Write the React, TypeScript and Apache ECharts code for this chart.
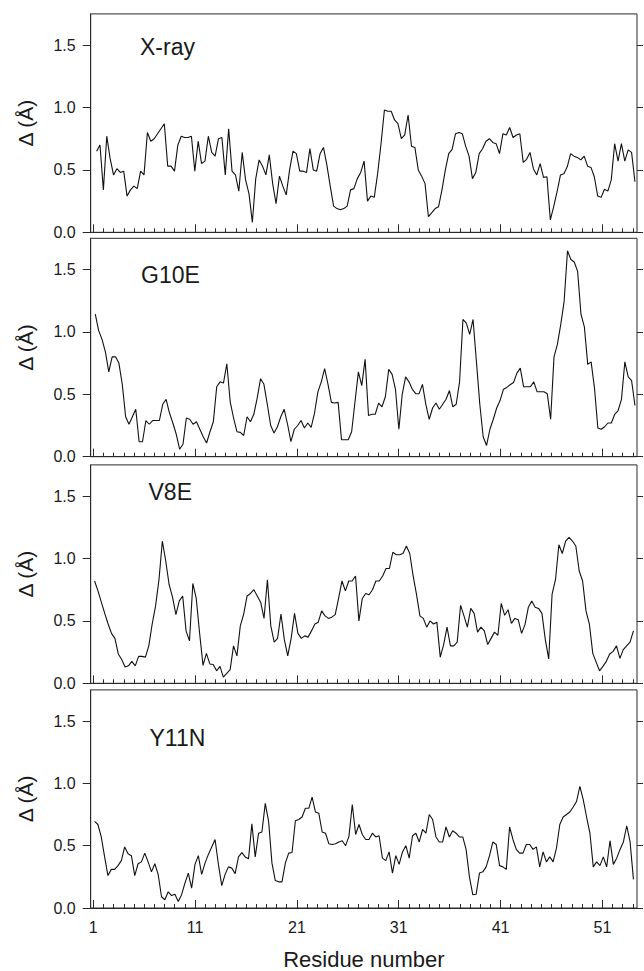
import React, { useEffect, useRef } from 'react';
import * as echarts from 'echarts';

const PANEL_LABELS = ['X-ray', 'G10E', 'V8E', 'Y11N'];

const XRAY = [
  0.65, 0.70, 0.34, 0.77, 0.59, 0.46, 0.51, 0.48, 0.49, 0.29, 0.34, 0.37, 0.35, 0.49, 0.46, 0.80,
  0.73, 0.75, 0.79, 0.83, 0.87, 0.53, 0.53, 0.49, 0.70, 0.77, 0.76, 0.76, 0.77, 0.49, 0.73, 0.55,
  0.57, 0.77, 0.64, 0.61, 0.75, 0.76, 0.46, 0.83, 0.49, 0.46, 0.33, 0.64, 0.42, 0.31, 0.08, 0.43,
  0.58, 0.53, 0.46, 0.62, 0.39, 0.23, 0.45, 0.37, 0.30, 0.50, 0.65, 0.63, 0.49, 0.49, 0.48, 0.67,
  0.50, 0.49, 0.63, 0.68, 0.54, 0.37, 0.21, 0.19, 0.18, 0.19, 0.21, 0.34, 0.35, 0.43, 0.48, 0.57,
  0.25, 0.29, 0.28, 0.47, 0.71, 0.98, 0.97, 0.97, 0.90, 0.87, 0.75, 0.78, 0.94, 0.69, 0.68, 0.50,
  0.45, 0.39, 0.125, 0.157, 0.19, 0.205, 0.34, 0.50, 0.63, 0.665, 0.79, 0.80, 0.79, 0.69, 0.61, 0.43,
  0.48, 0.63, 0.67, 0.73, 0.75, 0.72, 0.71, 0.63, 0.79, 0.78, 0.84, 0.76, 0.78, 0.79, 0.56, 0.585,
  0.64, 0.51, 0.46, 0.55, 0.44, 0.445, 0.10, 0.205, 0.325, 0.46, 0.47, 0.525, 0.63, 0.61, 0.60, 0.58,
  0.61, 0.53, 0.52, 0.445, 0.29, 0.28, 0.345, 0.33, 0.42, 0.71, 0.57, 0.71, 0.57, 0.66, 0.64, 0.405,
];

const G10E = [
  1.143, 1.01, 0.94, 0.84, 0.68, 0.80, 0.80, 0.75, 0.58, 0.32, 0.26, 0.32, 0.38, 0.12, 0.12, 0.29,
  0.26, 0.29, 0.29, 0.29, 0.42, 0.46, 0.35, 0.27, 0.18, 0.06, 0.10, 0.31, 0.30, 0.26, 0.28, 0.22,
  0.16, 0.11, 0.20, 0.28, 0.56, 0.60, 0.59, 0.745, 0.44, 0.31, 0.20, 0.195, 0.17, 0.32, 0.28, 0.34,
  0.47, 0.625, 0.58, 0.42, 0.25, 0.19, 0.24, 0.32, 0.38, 0.26, 0.12, 0.22, 0.25, 0.29, 0.23, 0.27,
  0.235, 0.35, 0.52, 0.60, 0.705, 0.58, 0.435, 0.43, 0.435, 0.136, 0.136, 0.136, 0.20, 0.44, 0.68, 0.57,
  0.78, 0.33, 0.34, 0.34, 0.43, 0.40, 0.48, 0.70, 0.66, 0.54, 0.22, 0.50, 0.64, 0.60, 0.54, 0.505,
  0.505, 0.58, 0.42, 0.30, 0.39, 0.43, 0.38, 0.42, 0.46, 0.53, 0.40, 0.42, 0.60, 1.10, 1.07, 0.98,
  1.10, 0.76, 0.42, 0.16, 0.09, 0.22, 0.30, 0.39, 0.45, 0.54, 0.555, 0.577, 0.595, 0.67, 0.71, 0.56,
  0.56, 0.56, 0.60, 0.52, 0.52, 0.52, 0.505, 0.30, 0.80, 0.90, 1.06, 1.245, 1.65, 1.58, 1.56, 1.485,
  1.14, 1.04, 0.74, 0.76, 0.55, 0.23, 0.22, 0.24, 0.27, 0.27, 0.34, 0.37, 0.46, 0.76, 0.64, 0.61,
  0.41,
];

const V8E = [
  0.82, 0.74, 0.65, 0.56, 0.475, 0.40, 0.36, 0.235, 0.19, 0.13, 0.14, 0.176, 0.14, 0.216, 0.216, 0.21,
  0.30, 0.475, 0.62, 0.83, 1.14, 0.98, 0.79, 0.69, 0.55, 0.66, 0.70, 0.42, 0.34, 0.80, 0.68, 0.40,
  0.144, 0.24, 0.155, 0.15, 0.10, 0.136, 0.05, 0.08, 0.11, 0.30, 0.22, 0.46, 0.555, 0.70, 0.72, 0.75,
  0.70, 0.65, 0.52, 0.83, 0.46, 0.33, 0.36, 0.555, 0.35, 0.22, 0.36, 0.56, 0.40, 0.36, 0.38, 0.37,
  0.42, 0.475, 0.49, 0.58, 0.54, 0.52, 0.53, 0.55, 0.68, 0.82, 0.74, 0.82, 0.82, 0.86, 0.50, 0.68,
  0.72, 0.71, 0.75, 0.82, 0.82, 0.86, 0.92, 0.92, 1.05, 1.03, 1.03, 1.04, 1.10, 1.04, 0.86, 0.71,
  0.54, 0.52, 0.45, 0.50, 0.475, 0.49, 0.21, 0.31, 0.45, 0.30, 0.30, 0.33, 0.625, 0.54, 0.45, 0.60,
  0.56, 0.41, 0.45, 0.42, 0.31, 0.36, 0.41, 0.385, 0.64, 0.545, 0.59, 0.48, 0.52, 0.51, 0.40, 0.47,
  0.61, 0.66, 0.61, 0.60, 0.56, 0.35, 0.195, 0.715, 0.83, 1.11, 1.04, 1.14, 1.17, 1.14, 1.10, 0.90,
  0.82, 0.58, 0.475, 0.24, 0.17, 0.10, 0.136, 0.176, 0.235, 0.256, 0.30, 0.20, 0.27, 0.30, 0.33, 0.42,
];

const Y11N = [
  0.695, 0.67, 0.57, 0.41, 0.26, 0.31, 0.31, 0.34, 0.38, 0.49, 0.435, 0.42, 0.26, 0.355, 0.37, 0.44,
  0.37, 0.29, 0.355, 0.27, 0.09, 0.066, 0.13, 0.10, 0.11, 0.053, 0.107, 0.20, 0.28, 0.16, 0.35, 0.42,
  0.27, 0.36, 0.43, 0.49, 0.55, 0.35, 0.18, 0.27, 0.33, 0.32, 0.275, 0.41, 0.445, 0.41, 0.395, 0.675,
  0.41, 0.60, 0.61, 0.84, 0.695, 0.36, 0.22, 0.21, 0.21, 0.36, 0.44, 0.445, 0.70, 0.71, 0.73, 0.80,
  0.80, 0.89, 0.77, 0.76, 0.61, 0.60, 0.515, 0.51, 0.515, 0.53, 0.54, 0.50, 0.575, 0.83, 0.59, 0.67,
  0.59, 0.55, 0.55, 0.60, 0.57, 0.58, 0.40, 0.38, 0.45, 0.28, 0.42, 0.35, 0.45, 0.50, 0.40, 0.58,
  0.60, 0.53, 0.63, 0.60, 0.75, 0.71, 0.57, 0.53, 0.53, 0.65, 0.57, 0.62, 0.60, 0.57, 0.57, 0.47,
  0.25, 0.107, 0.11, 0.28, 0.29, 0.33, 0.42, 0.53, 0.51, 0.34, 0.33, 0.31, 0.65, 0.55, 0.47, 0.44,
  0.44, 0.51, 0.51, 0.47, 0.49, 0.33, 0.45, 0.37, 0.41, 0.37, 0.48, 0.67, 0.73, 0.75, 0.77, 0.81,
  0.855, 0.975, 0.87, 0.73, 0.60, 0.33, 0.37, 0.34, 0.41, 0.33, 0.54, 0.35, 0.40, 0.47, 0.53, 0.66,
  0.53, 0.23,
];

const SERIES_VALUES = [XRAY, G10E, V8E, Y11N];
// residue number of first and last sample of each trace
const RESIDUE_SPAN = [
  [1.33, 54.2],
  [1.2, 54.2],
  [1.13, 54.05],
  [1.13, 54.05],
];

const MAJOR_TICKS = [1, 11, 21, 31, 41, 51];
const MINOR_TICKS = [
  1, 2, 3, 4, 5, 6, 7, 8, 9, 10, 11, 12, 13, 14, 15, 16, 17, 18, 19, 20, 21, 22, 23, 24, 25, 26, 27,
  28, 29, 30, 31, 32, 33, 34, 35, 36, 37, 38, 39, 40, 41, 42, 43, 44, 45, 46, 47, 48, 49, 50, 51, 52,
  53, 54,
];
const Y_TICKS = [0, 0.5, 1.0, 1.5];

const FONT = "'Liberation Sans', Arial, Helvetica, sans-serif";
const INK = '#1a1a1a';

export default function App() {
  const ref = useRef<HTMLDivElement>(null);

  useEffect(() => {
    if (!ref.current) return;
    const chart = echarts.init(ref.current, null, { renderer: 'svg' });

    const bottoms = [232.3, 456.7, 683.3, 908.3];
    const plotH = 218.4;
    const left = 90.7;
    const right = 644 - 637;

    const grids: any[] = [];
    const xAxes: any[] = [];
    const yAxes: any[] = [];
    const series: any[] = [];
    const graphics: any[] = [];

    const labelPos = [
      [140, 47],
      [141, 275],
      [148.5, 492.3],
      [149.5, 738.3],
    ];

    SERIES_VALUES.forEach((vals, i) => {
      const top = bottoms[i] - plotH;
      grids.push({
        left,
        right,
        top,
        height: plotH,
        show: true,
        borderColor: '#2a2a2a',
        borderWidth: 1,
        backgroundColor: 'transparent',
      });
      const isLast = i === SERIES_VALUES.length - 1;
      xAxes.push({
        type: 'value',
        gridIndex: i,
        position: 'bottom',
        min: 0.75,
        max: 54.4,
        axisLine: { show: true, lineStyle: { color: '#2a2a2a', width: 1 } },
        axisTick: {
          show: true,
          inside: true,
          length: 8,
          customValues: MAJOR_TICKS,
          lineStyle: { color: '#2a2a2a', width: 1 },
        },
        axisLabel: {
          show: isLast,
          customValues: MAJOR_TICKS,
          fontSize: 16,
          fontFamily: FONT,
          color: INK,
          margin: 11,
        },
        splitLine: { show: false },
        name: isLast ? 'Residue number' : '',
        nameLocation: 'middle',
        nameGap: 40,
        nameTextStyle: { fontSize: 22, fontFamily: FONT, color: INK },
      });
      xAxes.push({
        type: 'value',
        gridIndex: i,
        position: 'bottom',
        min: 0.75,
        max: 54.4,
        axisLine: { show: false },
        axisTick: {
          show: true,
          inside: true,
          length: 4,
          customValues: MINOR_TICKS,
          lineStyle: { color: '#2a2a2a', width: 1 },
        },
        axisLabel: { show: false },
        splitLine: { show: false },
      });
      yAxes.push({
        type: 'value',
        gridIndex: i,
        position: 'left',
        min: 0,
        max: 1.75,
        axisLine: { show: true, lineStyle: { color: '#2a2a2a', width: 1 } },
        axisTick: {
          show: true,
          inside: false,
          length: 8,
          customValues: Y_TICKS,
          lineStyle: { color: '#2a2a2a', width: 1 },
        },
        axisLabel: {
          customValues: Y_TICKS,
          formatter: (v: number) => v.toFixed(1),
          fontSize: 16,
          fontFamily: FONT,
          color: INK,
          margin: 15,
        },
        splitLine: { show: false },
        name: 'Δ (Å)',
        nameLocation: 'middle',
        nameRotate: 90,
        nameGap: 55,
        nameTextStyle: { fontSize: 21, fontFamily: FONT, color: INK },
      });
      yAxes.push({
        type: 'value',
        gridIndex: i,
        position: 'right',
        min: 0,
        max: 1.75,
        axisLine: { show: false },
        axisTick: {
          show: true,
          inside: false,
          length: 6,
          customValues: Y_TICKS,
          lineStyle: { color: '#2a2a2a', width: 1 },
        },
        axisLabel: { show: false },
        splitLine: { show: false },
      });

      const [r0, r1] = RESIDUE_SPAN[i];
      const n = vals.length;
      series.push({
        type: 'line',
        name: PANEL_LABELS[i],
        xAxisIndex: 2 * i,
        yAxisIndex: 2 * i,
        data: vals.map((v, k) => [r0 + ((r1 - r0) * k) / (n - 1), v]),
        showSymbol: false,
        symbol: 'none',
        lineStyle: { color: '#111', width: 1.1 },
        silent: true,
      });

      graphics.push({
        type: 'text',
        left: labelPos[i][0],
        top: labelPos[i][1] - 12,
        style: {
          text: PANEL_LABELS[i],
          fontSize: 23,
          fontFamily: FONT,
          fill: INK,
        },
      });
    });

    chart.setOption({
      animation: false,
      backgroundColor: '#ffffff',
      grid: grids,
      xAxis: xAxes,
      yAxis: yAxes,
      series,
      graphic: graphics,
    });

    return () => chart.dispose();
  }, []);

  return (
    <div
      ref={ref}
      style={{ position: 'absolute', left: 0, top: 0, width: 644, height: 971, background: '#fff' }}
    />
  );
}
